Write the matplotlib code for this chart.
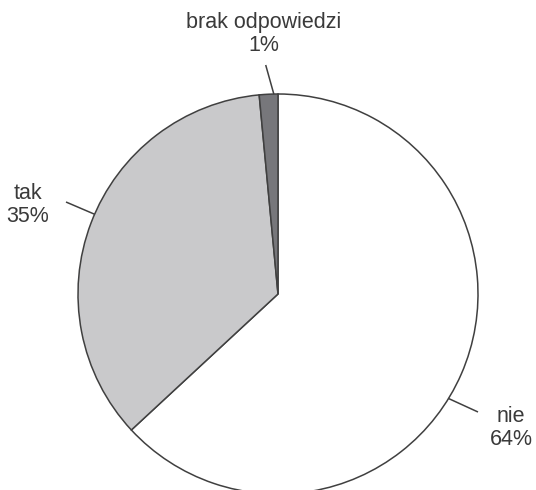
import numpy as np
import matplotlib
matplotlib.use("Agg")
import matplotlib.pyplot as plt

plt.rcParams["font.family"] = ["Liberation Sans", "DejaVu Sans"]

# dane
categories = ["nie", "tak", "brak odpowiedzi"]
shares = [63.1, 35.4, 1.5]
pct_labels = ["64%", "35%", "1%"]
colors = ["#ffffff", "#c9c9cb", "#77777b"]

W, H = 536, 490
fig = plt.figure(figsize=(W / 100, H / 100), dpi=100)
ax = fig.add_axes([0, 0, 1, 1])
ax.set_xlim(0, W)
ax.set_ylim(0, H)
ax.set_aspect("equal")
ax.axis("off")

cx, cy, r = 278, H - 294, 200
wedges, _ = ax.pie(shares, colors=colors, startangle=90, counterclock=False,
                   center=(cx, cy), radius=r, frame=True,
                   wedgeprops=dict(edgecolor="#404040", linewidth=1.1))
ax.set_xlim(0, W)
ax.set_ylim(0, H)
ax.axis("off")

# pozycje etykiet (piksele) i kąt punktu styku linii z kołem
label_pos = [(511, 428), (28, 205), (264, 34)]
touch_ang = [-31.5, 156.5, 91.2]
line_end = [(478, 412), (66, 202), (265.7, 65)]

for name, pct, (lx, ly), ang, (ex, ey) in zip(categories, pct_labels, label_pos,
                                             touch_ang, line_end):
    a = np.deg2rad(ang)
    px, py = cx + r * np.cos(a), cy + r * np.sin(a)
    ax.plot([px, ex], [py, H - ey], color="#404040", lw=1.1, solid_capstyle="butt")
    ax.text(lx, H - ly, f"{name}\n{pct}", ha="center", va="center",
            fontsize=15.5, color="#3a3a3a", linespacing=1.12)

fig.savefig("out.png", dpi=100)
